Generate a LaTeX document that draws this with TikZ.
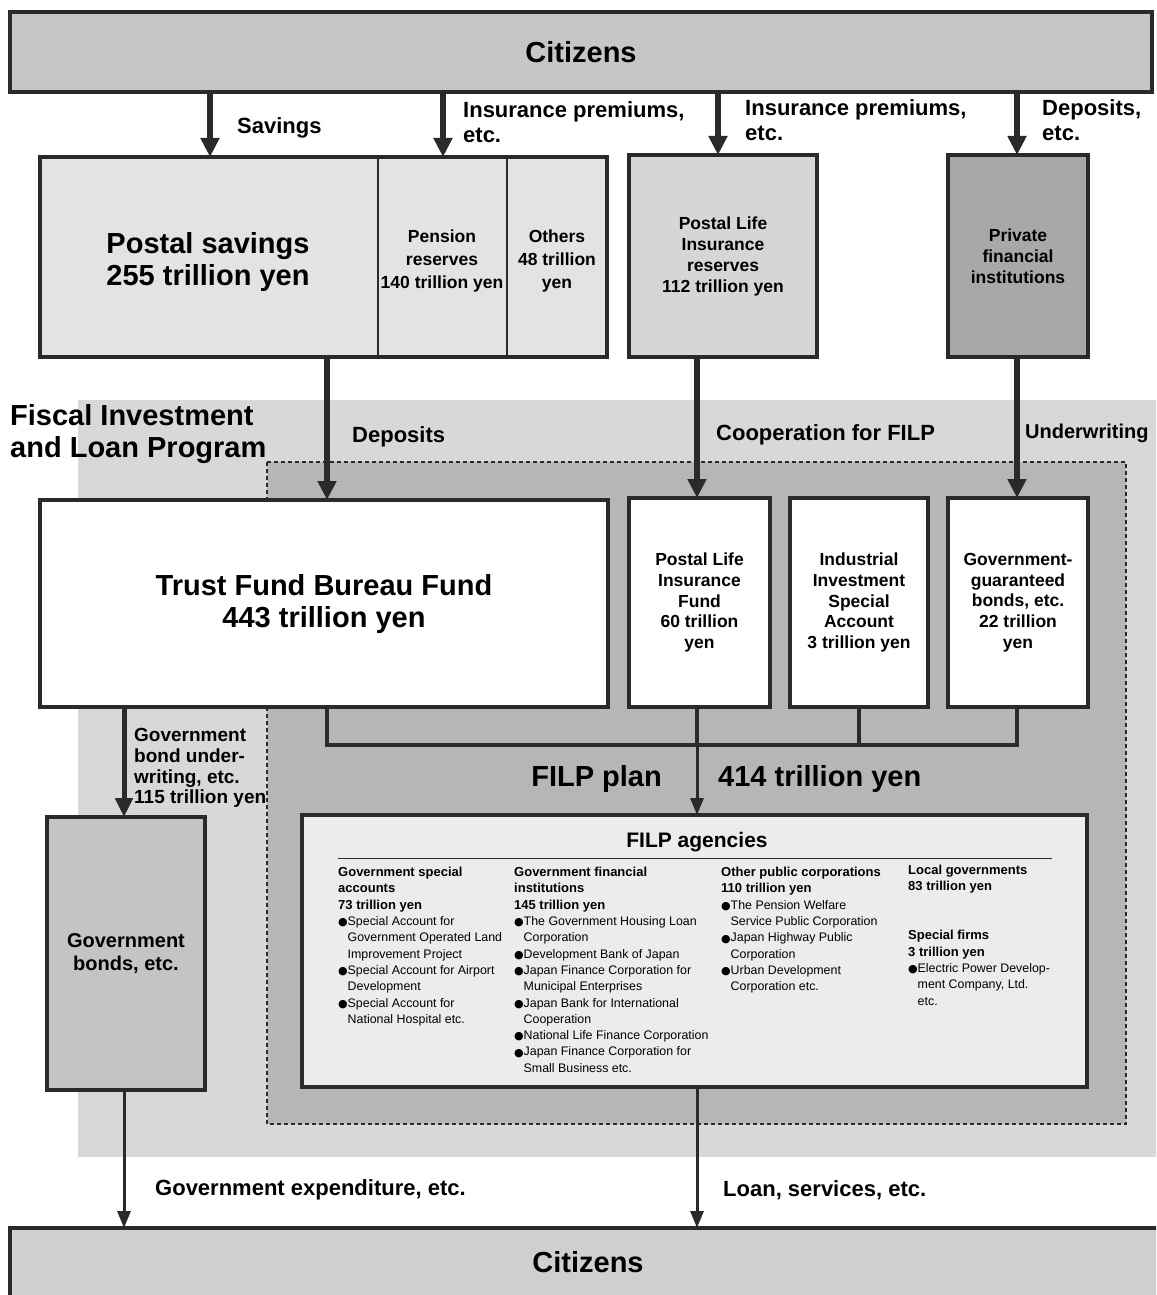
\documentclass[tikz,border=0pt]{standalone}
\usepackage{fontspec}
\setmainfont{Liberation Sans}
\newfontfamily\dvfont{DejaVu Sans}
\usetikzlibrary{arrows.meta}
\definecolor{bord}{HTML}{2A2A2A}
\definecolor{citfill}{HTML}{C6C6C6}
\definecolor{citbot}{HTML}{CFCFCF}
\definecolor{psfill}{HTML}{E3E3E3}
\definecolor{plrfill}{HTML}{D6D6D6}
\definecolor{pfifill}{HTML}{A8A8A8}
\definecolor{filpbg}{HTML}{D8D8D8}
\definecolor{dashbg}{HTML}{B6B6B6}
\definecolor{govfill}{HTML}{C4C4C4}
\definecolor{agfill}{HTML}{ECECEC}
\newcommand{\mybul}{\makebox[9.5pt][l]{\raisebox{-0.3pt}{\dvfont\fontsize{11}{11}\selectfont ●}}}
\newcommand{\myind}{\hspace*{9.5pt}}
\newcommand{\myhd}[1]{{\fontsize{13}{16.3}\selectfont\bfseries #1}}
\begin{document}
\begin{tikzpicture}[x=1pt,y=-1pt,
  box/.style={draw=bord, line width=4.5pt, inner sep=0pt, outer sep=0pt, anchor=north west, align=center},
  big/.style={font=\fontsize{29}{32}\selectfont\bfseries},
  mid/.style={font=\fontsize{17.5}{21}\selectfont\bfseries},
  lbl/.style={font=\fontsize{22}{25}\selectfont\bfseries, inner sep=0pt, anchor=west, align=left},
  biglbl/.style={font=\fontsize{29}{32}\selectfont\bfseries, inner sep=0pt, align=left},
  small/.style={font=\fontsize{12.4}{16.3}\selectfont, inner sep=0pt, anchor=north west, align=left},
  thickarr/.style={draw=bord, line width=5.5pt, -{Triangle[length=19pt,width=18pt]}},
  thinarr/.style={draw=bord, line width=3pt, -{Triangle[length=17pt,width=13pt]}},
  busline/.style={draw=bord, line width=4pt, line join=miter}
]
\useasboundingbox (0,0) rectangle (1156,1295);
\clip (0,0) rectangle (1156,1295);
\fill[white] (0,0) rectangle (1156,1295);

% FILP background regions
\fill[filpbg] (78,400) rectangle (1160,1157);
\draw[fill=dashbg, draw=bord, line width=1.3pt, dash pattern=on 4pt off 3pt] (267,462) rectangle (1126,1124);

% x positions
\coordinate (xSav) at (210,0);
\coordinate (xIns) at (443,0);
\coordinate (xIns2) at (718,0);
\coordinate (xDep) at (1017,0);
\coordinate (xTF) at (327,0);
\coordinate (xPL) at (697,0);
\coordinate (xII) at (859,0);
\coordinate (xGB) at (124,0);
\coordinate (xD1) at (378,0);
\coordinate (xD2) at (507,0);
\coordinate (bus) at (0,745);

% Top citizens
\node[box, fill=citfill, minimum width=1142pt, minimum height=80pt, big] (citTop) at (10,12) {Citizens};

% Row 1
\node[box, fill=psfill, minimum width=567pt, minimum height=200pt] (postal) at (40,157) {};
\draw[bord, line width=1.2pt] (postal.north -| xD1) -- (postal.south -| xD1);
\draw[bord, line width=1.2pt] (postal.north -| xD2) -- (postal.south -| xD2);
\node[big, align=center] (ps) at (208,262) {Postal savings\\255 trillion yen};
\node[font=\fontsize{17.5}{23}\selectfont\bfseries, align=center] (pr) at (442,261) {Pension\\reserves\\140 trillion yen};
\node[font=\fontsize{17.5}{23}\selectfont\bfseries, align=center] (ot) at (557,261) {Others\\48 trillion\\yen};
\node[box, fill=plrfill, minimum width=188pt, minimum height=202pt, mid] (plr) at (629,155) {Postal Life\\Insurance\\reserves\\112 trillion yen};
\node[box, fill=pfifill, minimum width=140pt, minimum height=202pt, mid] (pfi) at (948,155) {Private\\financial\\institutions};

% Row 2
\node[box, fill=white, minimum width=568pt, minimum height=207pt, big] (trust) at (40,500) {Trust Fund Bureau Fund\\443 trillion yen};
\node[box, fill=white, minimum width=141pt, minimum height=209pt, font=\fontsize{17.5}{20.7}\selectfont\bfseries] (plf) at (629,498) {Postal Life\\Insurance\\Fund\\60 trillion\\yen};
\node[box, fill=white, minimum width=138pt, minimum height=209pt, font=\fontsize{17.5}{20.7}\selectfont\bfseries] (iisa) at (790,498) {Industrial\\Investment\\Special\\Account\\3 trillion yen};
\node[box, fill=white, minimum width=140pt, minimum height=209pt, font=\fontsize{17.5}{20.7}\selectfont\bfseries] (ggb) at (948,498) {Government-\\guaranteed\\bonds, etc.\\22 trillion\\yen};

% Row 3
\node[box, fill=govfill, minimum width=158pt, minimum height=273pt, font=\fontsize{20}{23}\selectfont\bfseries] (govb) at (47,817) {Government\\bonds, etc.};
\node[box, fill=agfill, minimum width=785pt, minimum height=272pt] (agencies) at (302,815) {};
\node[font=\fontsize{21}{25}\selectfont\bfseries, inner sep=0pt] (agt) at (697,842) {FILP agencies};
\draw[bord, line width=0.8pt] (338,858) -- (1052,858);

\node[small] (c1) at (338,867) {\myhd{Government special}\\\myhd{accounts}\\\myhd{73 trillion yen}\\
\mybul Special Account for\\\myind Government Operated Land\\\myind Improvement Project\\
\mybul Special Account for Airport\\\myind Development\\
\mybul Special Account for\\\myind National Hospital etc.};
\node[small] (c2) at (514,867) {\myhd{Government financial}\\\myhd{institutions}\\\myhd{145 trillion yen}\\
\mybul The Government Housing Loan\\\myind Corporation\\
\mybul Development Bank of Japan\\
\mybul Japan Finance Corporation for\\\myind Municipal Enterprises\\
\mybul Japan Bank for International\\\myind Cooperation\\
\mybul National Life Finance Corporation\\
\mybul Japan Finance Corporation for\\\myind Small Business etc.};
\node[small] (c3) at (721,867) {\myhd{Other public corporations}\\\myhd{110 trillion yen}\\
\mybul The Pension Welfare\\\myind Service Public Corporation\\
\mybul Japan Highway Public\\\myind Corporation\\
\mybul Urban Development\\\myind Corporation etc.};
\node[small] (c4) at (908,865) {\myhd{Local governments}\\\myhd{83 trillion yen}\\[32.6pt]
\myhd{Special firms}\\\myhd{3 trillion yen}\\
\mybul Electric Power Develop-\\\myind ment Company, Ltd.\\\myind etc.};

% Bottom citizens
\node[box, fill=citbot, minimum width=1150pt, minimum height=100pt] (citBot) at (10,1228) {};
\node[big, inner sep=0pt] (citBotT) at (588,1262) {Citizens};

% Arrows from top citizens
\draw[thickarr] (citTop.south -| xSav) -- (postal.north -| xSav);
\draw[thickarr] (citTop.south -| xIns) -- (postal.north -| xIns);
\draw[thickarr] (citTop.south -| xIns2) -- (plr.north -| xIns2);
\draw[thickarr] (citTop.south -| xDep) -- (pfi.north -| xDep);

% Arrows into row 2
\draw[thickarr] (postal.south -| xTF) -- (trust.north -| xTF);
\draw[thickarr] (plr.south -| xPL) -- (plf.north -| xPL);
\draw[thickarr] (pfi.south -| xDep) -- (ggb.north -| xDep);

% Bus
\draw[busline] (trust.south -| xTF) -- (bus -| xTF) -- (bus -| xDep) -- (ggb.south -| xDep);
\draw[busline] (plf.south -| xPL) -- (bus -| xPL);
\draw[busline] (iisa.south -| xII) -- (bus -| xII);
\draw[thinarr] (bus -| xPL) -- (agencies.north -| xPL);

% Gov bonds
\draw[draw=bord, line width=5pt, -{Triangle[length=19pt,width=17pt]}] (trust.south -| xGB) -- (govb.north -| xGB);
\draw[thinarr] (govb.south -| xGB) -- (citBot.north -| xGB);
\draw[thinarr] (agencies.south -| xPL) -- (citBot.north -| xPL);

% Labels
\node[lbl] (lSav) at (237,128) {Savings};
\node[lbl] (lIns) at (463,122) {Insurance premiums,\\etc.};
\node[lbl] (lIns2) at (745,120) {Insurance premiums,\\etc.};
\node[lbl] (lDep) at (1042,120) {Deposits,\\etc.};
\node[biglbl, anchor=west] (lFilp) at (10,434) {Fiscal Investment\\and Loan Program};
\node[lbl] (lDep2) at (352,437) {Deposits};
\node[lbl] (lCoop) at (716,435) {Cooperation for FILP};
\node[lbl, font=\fontsize{20}{24}\selectfont\bfseries] (lUnd) at (1025,433) {Underwriting};
\node[lbl, font=\fontsize{19}{20.7}\selectfont\bfseries] (lGbu) at (134,768) {Government\\bond under-\\writing, etc.\\115 trillion yen};
\node[biglbl, anchor=east] (lPlan) at (662,779) {FILP plan};
\node[biglbl, anchor=west] (lAmt) at (718,779) {414 trillion yen};
\node[lbl] (lExp) at (155,1190) {Government expenditure, etc.};
\node[lbl] (lLoan) at (723,1190) {Loan, services, etc.};
\end{tikzpicture}
\end{document}
